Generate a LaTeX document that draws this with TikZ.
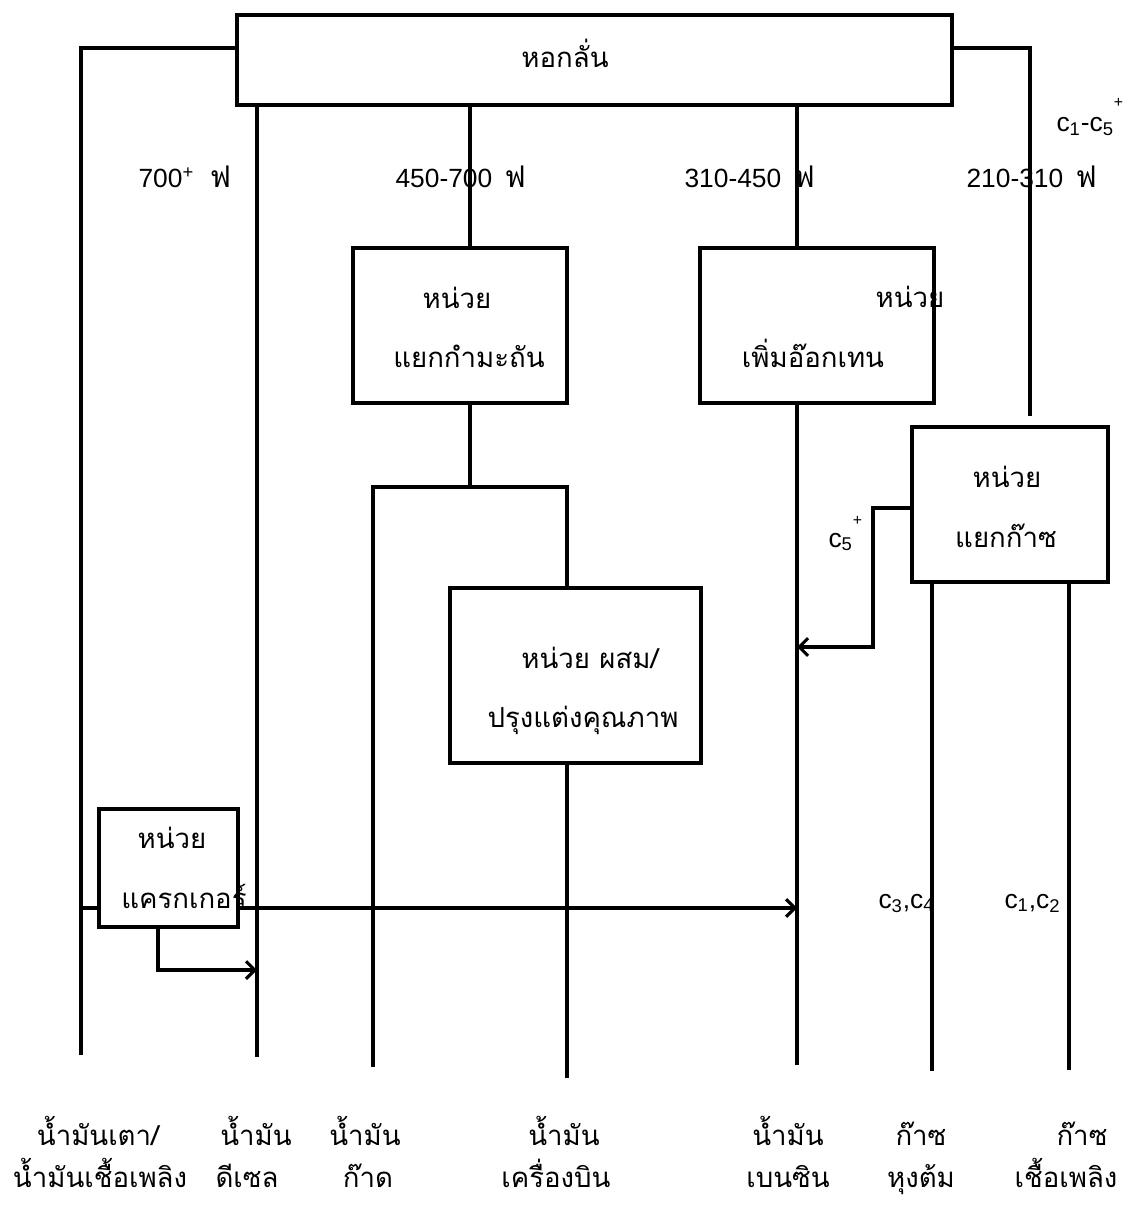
\documentclass[tikz,border=0pt]{standalone}
\usepackage{fontspec}
\setmainfont{Liberation Sans}
\newfontfamily\thaifont[Script=Thai]{Loma}
\usetikzlibrary{positioning, arrows, arrows.meta}

\begin{document}
\begin{tikzpicture}[x=0.02cm, y=-0.02cm, line width=1.75pt,
    >={Straight Barb[length=5pt, width=10pt]},
    unit/.style={draw, line width=1.8pt, inner sep=0pt},
    lbl/.style={font=\thaifont\fontsize{15.7}{19}\selectfont, anchor=base, inner sep=0pt},
    num/.style={font=\fontsize{15}{18}\selectfont, anchor=base west, inner sep=0pt}]
  \useasboundingbox (0,0) rectangle (1133,1216);

  % Units
  \node[unit, minimum width=14.3cm, minimum height=1.8cm] (tower) at (594.5,60) {};
  \node[unit, minimum width=4.28cm, minimum height=3.1cm] (sep) at (460,325.5) {};
  \node[unit, minimum width=4.68cm, minimum height=3.1cm] (oct) at (817,325.5) {};
  \node[unit, minimum width=3.92cm, minimum height=3.1cm] (gas) at (1010,504.5) {};
  \node[unit, minimum width=5.02cm, minimum height=3.5cm] (blend) at (575.5,675.5) {};
  \node[unit, minimum width=2.78cm, minimum height=2.36cm] (crk) at (168.5,868) {};

  % Line ends
  \coordinate (fuel) at (81,1055);
  \coordinate (diesel) at (257,1057);
  \coordinate (kero) at (373,1067);
  \coordinate (jet) at (567,1078);
  \coordinate (benz) at (797,1065);
  \coordinate (lpg) at (932,1071);
  \coordinate (fgas) at (1069,1070);
  \coordinate (gasin) at (1030,416);
  \coordinate (split) at (470,487);

  % Streams
  \draw (tower.west |- 0,48) -| (fuel);
  \draw (tower.east |- 0,48) -| (gasin);
  \draw (tower.south -| diesel) -- (diesel);
  \draw (tower.south -| split) -- (sep.north -| split);
  \draw (sep.south -| split) -- (split);
  \draw (kero) |- (split) -| (blend.north -| jet);
  \draw (blend.south -| jet) -- (jet);
  \draw (tower.south -| benz) -- (oct.north -| benz);
  \draw (oct.south -| benz) -- (benz);
  \draw (gas.south -| lpg) -- (lpg);
  \draw (gas.south -| fgas) -- (fgas);
  \draw[->] (gas.west |- 0,508) -| (873,647) -- (benz |- 0,647);
  \draw (fuel |- 0,908) -- (crk.west |- 0,908);
  \draw[->] (crk.east |- 0,908) -- (benz |- 0,908);
  \draw[->] (crk.south -| 158,0) |- (diesel |- 0,970);

  % Unit texts
  \node[lbl] (towertxt) at (565,68) {หอกลั่น};
  \node[lbl] (septxta) at (457,309) {หน่วย};
  \node[lbl] (septxtb) at (469,367) {แยกกำมะถัน};
  \node[lbl] (octtxta) at (910,308) {หน่วย};
  \node[lbl] (octtxtb) at (813,367) {เพิ่มอ๊อกเทน};
  \node[lbl] (gastxta) at (1007,487) {หน่วย};
  \node[lbl] (gastxtb) at (1006,547) {แยกก๊าซ};
  \node[lbl] (blendtxta) at (590,668) {หน่วย ผสม/};
  \node[lbl] (blendtxtb) at (583,727) {ปรุงแต่งคุณภาพ};
  \node[lbl] (crktxta) at (172,848) {หน่วย};
  \node[lbl] (crktxtb) at (184,908) {แครกเกอร์};

  % Cut temperatures
  \node[num] (cuta) at (137,188) {700\textsuperscript{+}\hspace{9pt}{\thaifont\fontsize{17}{18}\selectfont ฟ}};
  \node[num] (cutb) at (394,188) {450-700\hspace{7pt}{\thaifont\fontsize{17}{18}\selectfont ฟ}};
  \node[num] (cutc) at (683,188) {310-450\hspace{7pt}{\thaifont\fontsize{17}{18}\selectfont ฟ}};
  \node[num] (cutd) at (965,188) {210-310\hspace{7pt}{\thaifont\fontsize{17}{18}\selectfont ฟ}};
  \node[num] (lights) at (1055,132) {c\textsubscript{1}-c\textsubscript{5}\raisebox{14pt}{\small +}};
  \node[num] (cfive) at (827,547) {c\textsubscript{5}\raisebox{12pt}{\small +}};
  \node[num] (cthree) at (877,908) {c\textsubscript{3},c\textsubscript{4}};
  \node[num] (cone) at (1003,908) {c\textsubscript{1},c\textsubscript{2}};

  % Products
  \node[lbl] (p1a) at (98,1145) {น้ำมันเตา/};
  \node[lbl] (p1b) at (100,1187) {น้ำมันเชื้อเพลิง};
  \node[lbl] (p2a) at (256,1145) {น้ำมัน};
  \node[lbl] (p2b) at (247,1187) {ดีเซล};
  \node[lbl] (p3a) at (365,1145) {น้ำมัน};
  \node[lbl] (p3b) at (368,1187) {ก๊าด};
  \node[lbl] (p4a) at (564,1145) {น้ำมัน};
  \node[lbl] (p4b) at (556,1187) {เครื่องบิน};
  \node[lbl] (p5a) at (788,1145) {น้ำมัน};
  \node[lbl] (p5b) at (788,1187) {เบนซิน};
  \node[lbl] (p6a) at (921,1145) {ก๊าซ};
  \node[lbl] (p6b) at (921,1187) {หุงต้ม};
  \node[lbl] (p7a) at (1082,1145) {ก๊าซ};
  \node[lbl] (p7b) at (1066,1187) {เชื้อเพลิง};
\end{tikzpicture}
\end{document}
